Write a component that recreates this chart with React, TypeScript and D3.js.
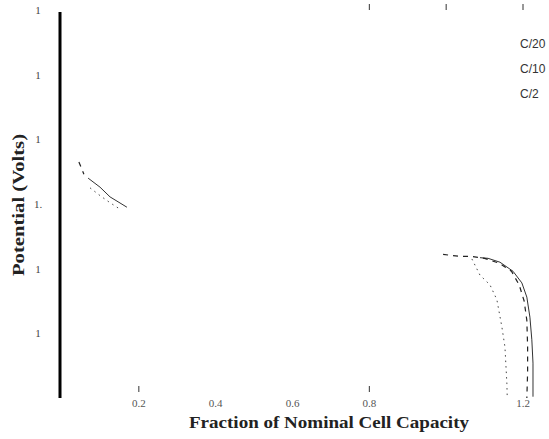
import React from 'react';
import { scaleLinear, line } from 'd3';

// x ticks (fraction of nominal capacity) as they survive on the scan
const capacityTicks = [0.2, 0.4, 0.6, 0.8, 1.2];
const capacityTickLabels = ['0.2', '0.4', '0.6', '0.8', '1.2'];
const topTickMarks = [0.8, 1.0, 1.2];
const bottomTickMarks = [0.2, 0.8];

// y ticks (volts) - labels are mostly worn down to "1"
const potentialTicks = [1.6, 1.5, 1.4, 1.3, 1.2, 1.1];
const potentialTickLabels = ['1', '1', '1', '1.', '1', '1'];

// discharge curves, NaN marks the part lost from the scan
const c20Capacity = [0.068, 0.099, 0.125, 0.169, NaN, 1.088, 1.109, 1.14, 1.174, 1.197, 1.21, 1.218, 1.223, 1.226, 1.226];
const c20Potential = [1.34, 1.326, 1.311, 1.295, NaN, 1.217, 1.216, 1.21, 1.196, 1.178, 1.156, 1.125, 1.09, 1.054, 1.002];

const c10Capacity = [0.044, 0.057, NaN, 0.992, 1.036, 1.067, 1.1, 1.14, 1.17, 1.19, 1.203, 1.21, 1.212, 1.212, 1.21];
const c10Potential = [1.365, 1.346, NaN, 1.222, 1.219, 1.219, 1.216, 1.208, 1.196, 1.175, 1.15, 1.12, 1.08, 1.04, 1.0];

const c2Capacity = [0.073, 0.099, 0.125, 0.151, NaN, 1.067, 1.088, 1.114, 1.132, 1.145, 1.153, 1.158, 1.159];
const c2Potential = [1.325, 1.313, 1.302, 1.292, NaN, 1.215, 1.19, 1.175, 1.152, 1.11, 1.079, 1.023, 1.0];

const legendLabels = ['C/20', 'C/10', 'C/2'];

const W = 549;
const H = 439;

export default function App() {
  const x = scaleLinear().domain([0, 1.2]).range([62, 523]);
  const y = scaleLinear().domain([1.0, 1.6]).range([398, 10]);

  const path = (xs: number[], ys: number[]) =>
    line<number>()
      .defined((_, i) => !isNaN(xs[i]) && !isNaN(ys[i]))
      .x((_, i) => x(xs[i]))
      .y((_, i) => y(ys[i]))(xs) || '';

  const serif = "'Liberation Serif', 'Times New Roman', serif";
  const narrow = "'Liberation Sans Narrow', 'Liberation Sans', sans-serif";

  return (
    <div style={{ position: 'fixed', left: 0, top: 0, width: W, height: H, background: '#fff' }}>
      <svg width={W} height={H} style={{ display: 'block' }}>
        <rect width={W} height={H} fill="#fff" />

        {/* left axis */}
        <line x1={60} x2={60} y1={12} y2={398} stroke="#000" strokeWidth={3} />

        {potentialTicks.map((v, i) => (
          <text key={v} x={38} y={y(v) + 4} fontFamily={serif} fontSize={11} fill="#444" textAnchor="middle">
            {potentialTickLabels[i]}
          </text>
        ))}

        {capacityTicks.map((v, i) => (
          <text key={v} x={x(v)} y={407} fontFamily={serif} fontSize={11} fill="#555" textAnchor="middle">
            {capacityTickLabels[i]}
          </text>
        ))}

        {topTickMarks.map(v => (
          <line key={v} x1={x(v)} x2={x(v)} y1={4} y2={10} stroke="#333" strokeWidth={1} />
        ))}
        {bottomTickMarks.map(v => (
          <line key={v} x1={x(v)} x2={x(v)} y1={386} y2={392} stroke="#333" strokeWidth={1} />
        ))}

        {/* curves */}
        <path d={path(c20Capacity, c20Potential)} fill="none" stroke="#333" strokeWidth={1} />
        <path d={path(c10Capacity, c10Potential)} fill="none" stroke="#222" strokeWidth={1.2} strokeDasharray="5 5" />
        <path d={path(c2Capacity, c2Potential)} fill="none" stroke="#444" strokeWidth={1} strokeDasharray="1.5 4" />

        {/* legend */}
        {legendLabels.map((l, i) => (
          <text key={l} x={520} y={48 + i * 25} fontFamily={narrow} fontSize={12} fill="#333">
            {l}
          </text>
        ))}

        {/* titles */}
        <text x={189} y={428} fontFamily={serif} fontSize={16} fontWeight="bold" fill="#222"
          textLength={280} lengthAdjust="spacingAndGlyphs">
          Fraction of Nominal Cell Capacity
        </text>
        <text transform="translate(24,276) rotate(-90)" fontFamily={serif} fontSize={16} fontWeight="bold" fill="#222"
          textLength={142} lengthAdjust="spacingAndGlyphs">
          Potential (Volts)
        </text>
      </svg>
    </div>
  );
}
